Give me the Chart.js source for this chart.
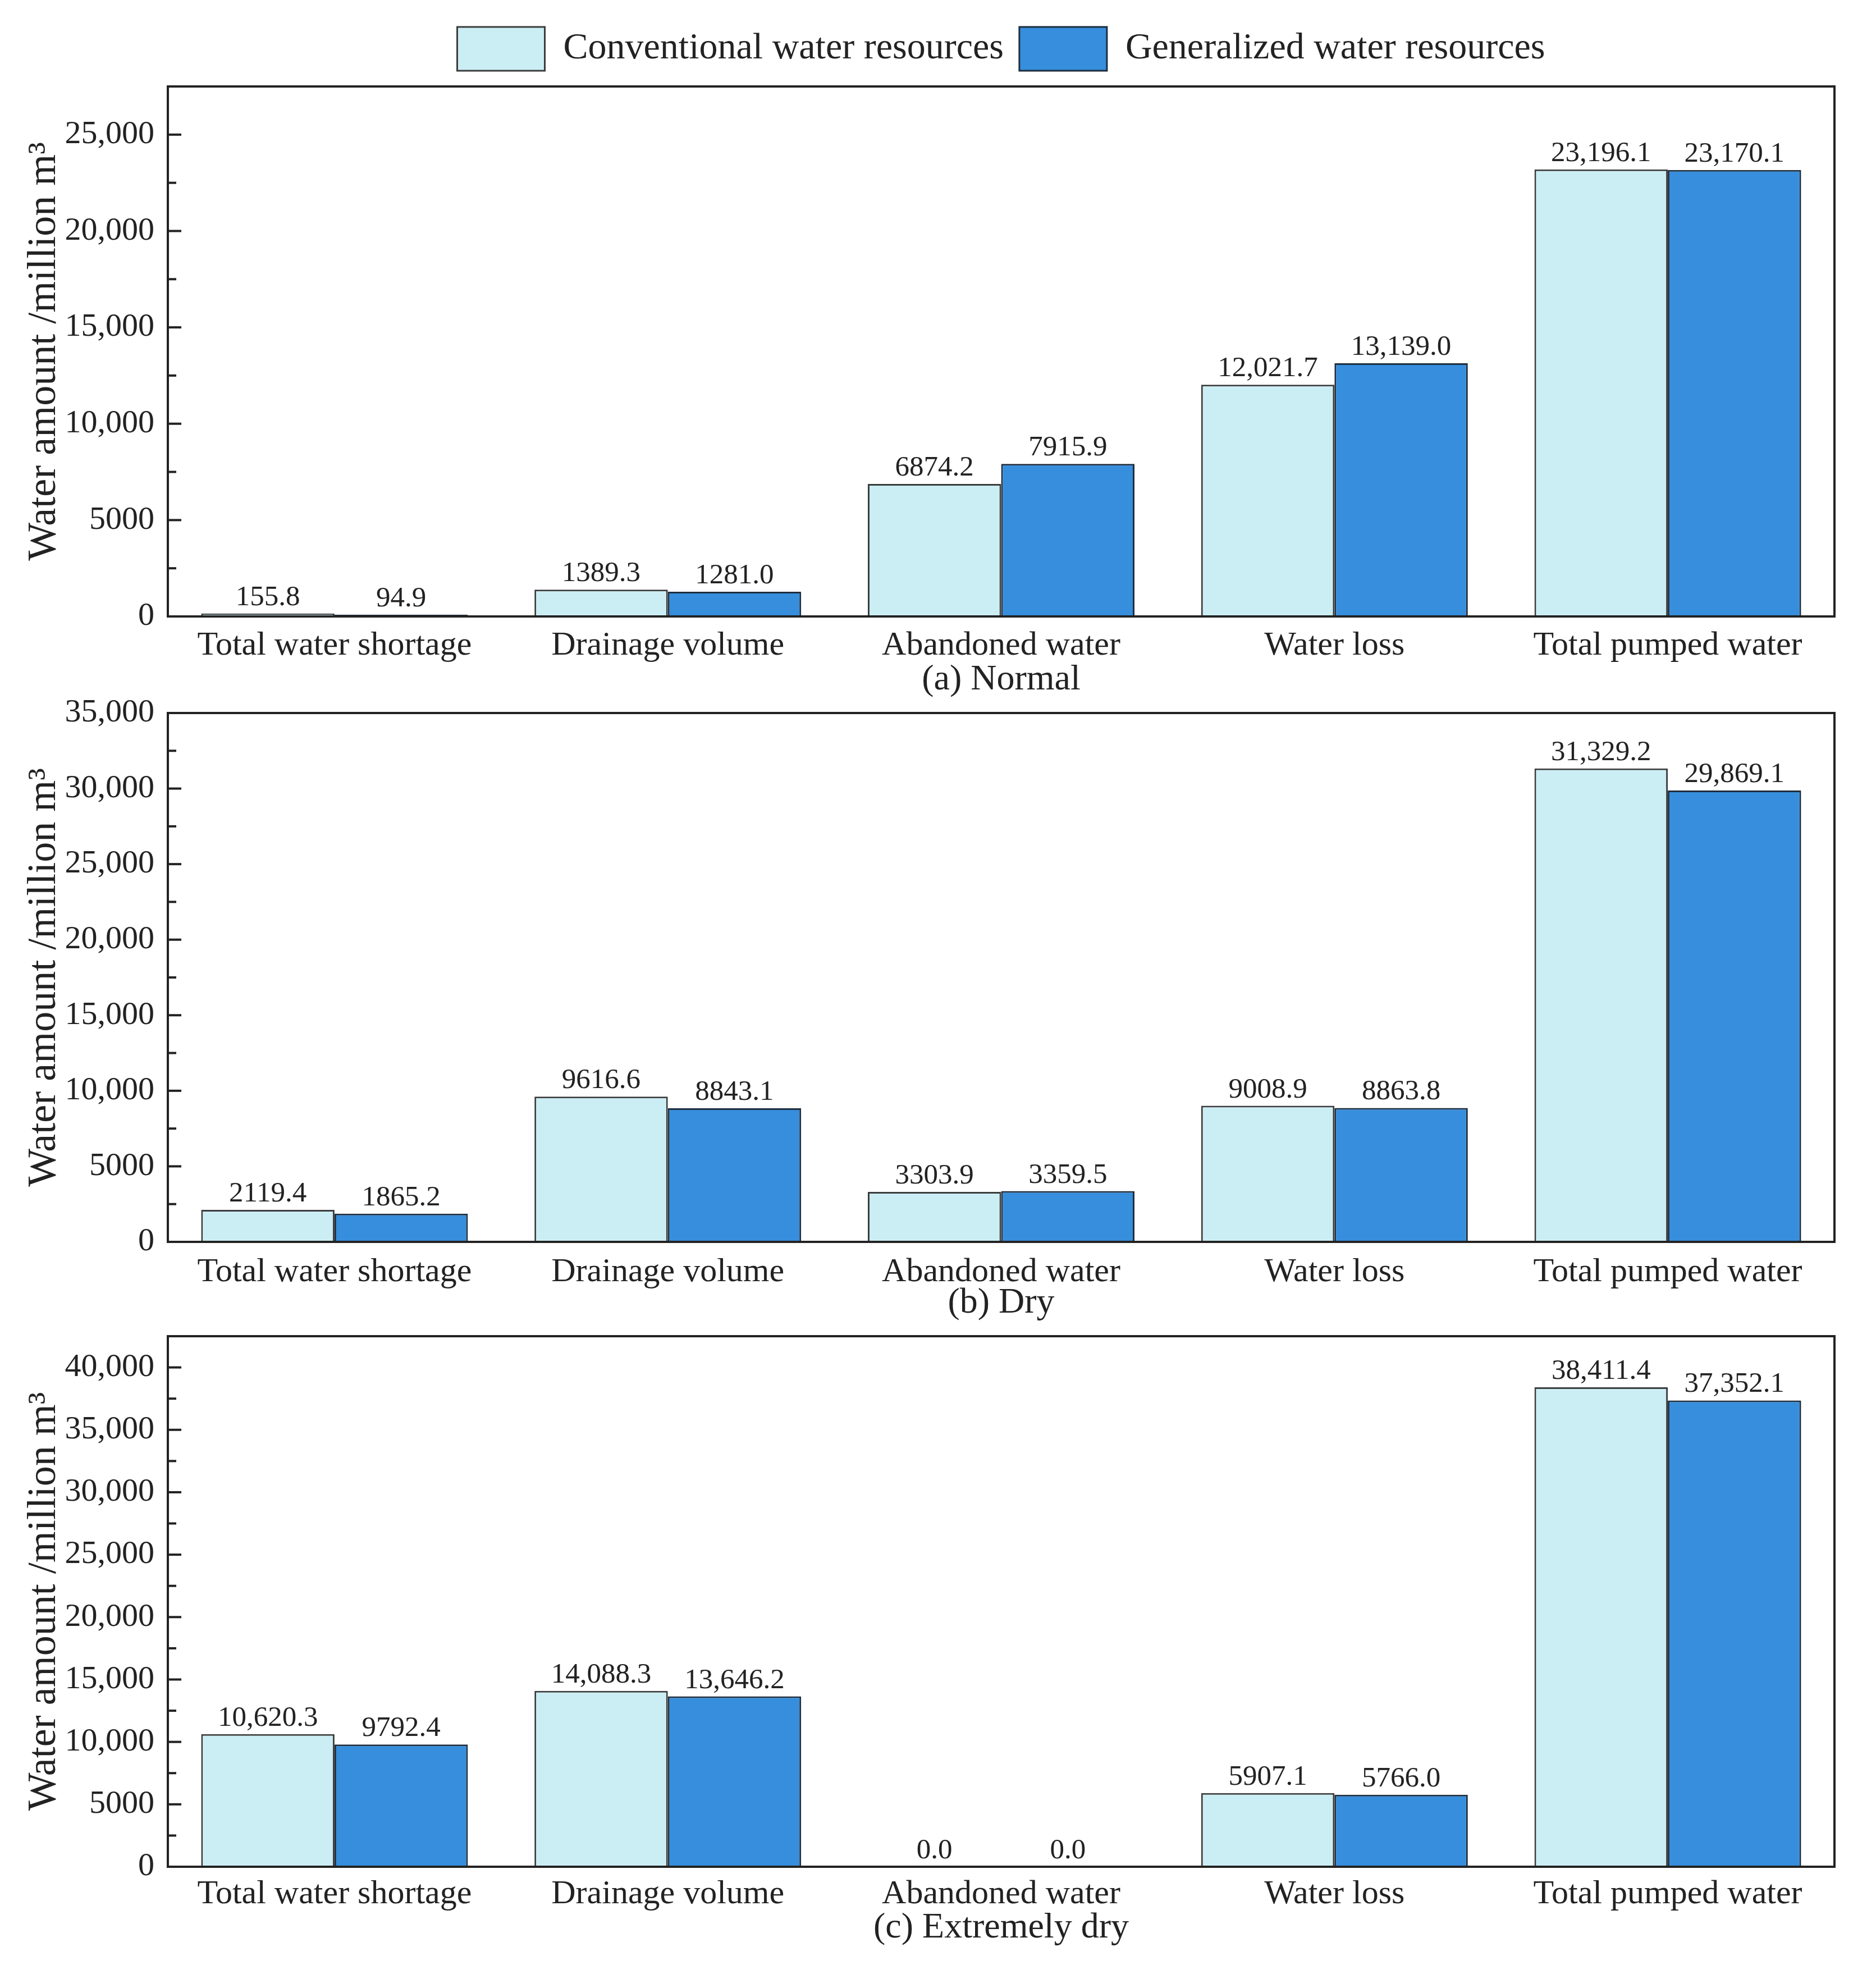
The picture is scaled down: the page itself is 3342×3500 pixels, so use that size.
<!DOCTYPE html>
<html>
<head>
<meta charset="utf-8">
<script src="https://cdn.jsdelivr.net/npm/chart.js@4"></script>
<style>
  html, body { margin: 0; padding: 0; background: #fff; overflow: hidden; }
  canvas { position: absolute; left: 0; }
</style>
</head>
<body>
<canvas id="chartA" width="3342" height="1250" style="top:0px"></canvas>
<canvas id="chartB" width="3342" height="1170" style="top:1190px"></canvas>
<canvas id="chartC" width="3342" height="1200" style="top:2300px"></canvas>
<script>
const categories = ["Total water shortage", "Drainage volume", "Abandoned water", "Water loss", "Total pumped water"];
const seriesNames = ["Conventional water resources", "Generalized water resources"];

const normalConventional = [155.8, 1389.3, 6874.2, 12021.7, 23196.1];
const normalGeneralized = [94.9, 1281.0, 7915.9, 13139.0, 23170.1];
const dryConventional = [2119.4, 9616.6, 3303.9, 9008.9, 31329.2];
const dryGeneralized = [1865.2, 8843.1, 3359.5, 8863.8, 29869.1];
const extremeConventional = [10620.3, 14088.3, 0.0, 5907.1, 38411.4];
const extremeGeneralized = [9792.4, 13646.2, 0.0, 5766.0, 37352.1];

const yMaxes = [27500, 35000, 42500];
const captions = ["(a) Normal", "(b) Dry", "(c) Extremely dry"];

const FONT = "'Liberation Serif', 'Times New Roman', serif";
const lightColor = "#cbeef4";
const darkColor = "#368edd";
const ink = "#222";

Chart.defaults.font.family = FONT;
Chart.defaults.color = ink;

// 5000 stays plain, 10,000 and up get a comma
function fmt(v, digits) {
    if (v >= 10000) {
        return v.toLocaleString("en-US", { minimumFractionDigits: digits, maximumFractionDigits: digits });
    }
    return v.toFixed(digits);
}

const framePlugin = {
    id: "frame",
    beforeLayout(chart) {
        // leave a little gap between legend and plot box
        const lg = chart.legend;
        if (!lg || lg._padded) return;
        const fit = lg.fit;
        lg.fit = function () {
            fit.call(this);
            if (this.options.display) this.height += 18;
        };
        lg._padded = true;
    },
    afterLayout(chart) {
        // center the legend over the plot box, not the whole canvas
        const lg = chart.legend;
        if (!lg || !lg.options.display) return;
        const a = chart.chartArea;
        const dx = (a.left + a.right) / 2 - (lg.left + lg.right) / 2;
        lg.left += dx;
        lg.right += dx;
    },
    afterDatasetsDraw(chart) {
        const ctx = chart.ctx;
        ctx.save();
        ctx.font = "51px " + FONT;
        ctx.fillStyle = ink;
        ctx.textAlign = "center";
        ctx.textBaseline = "alphabetic";
        chart.data.datasets.forEach((ds, i) => {
            chart.getDatasetMeta(i).data.forEach((bar, j) => {
                ctx.fillText(fmt(ds.data[j], 1), bar.x, bar.y - 15);
            });
        });
        ctx.restore();
    },
    afterDraw(chart) {
        const ctx = chart.ctx;
        const a = chart.chartArea;
        const y = chart.scales.y;
        ctx.save();
        ctx.strokeStyle = ink;
        ctx.lineWidth = 4;
        y.ticks.forEach(t => {
            if (t.value <= y.min || t.value >= y.max) return;
            const py = y.getPixelForValue(t.value);
            const len = t.value % 5000 === 0 ? 24 : 15;
            ctx.beginPath();
            ctx.moveTo(a.left, py);
            ctx.lineTo(a.left + len, py);
            ctx.stroke();
        });
        ctx.strokeRect(a.left, a.top, a.right - a.left, a.bottom - a.top);
        ctx.restore();
    }
};

function buildChart(id, conv, gen, yMax, caption, lay) {
    return new Chart(document.getElementById(id), {
        type: "bar",
        data: {
            labels: categories,
            datasets: [
                { label: seriesNames[0], data: conv, backgroundColor: lightColor, borderColor: "#3c3c3c", borderWidth: 3 },
                { label: seriesNames[1], data: gen, backgroundColor: darkColor, borderColor: "#1e2d3d", borderWidth: 3 }
            ]
        },
        options: {
            responsive: false,
            animation: false,
            devicePixelRatio: 1,
            datasets: { bar: { categoryPercentage: 0.8, barPercentage: 1.0 } },
            layout: { padding: { top: lay.top, left: 0, right: 74, bottom: 0 } },
            plugins: {
                legend: {
                    display: lay.legend,
                    position: "top",
                    labels: {
                        boxWidth: 156,
                        boxHeight: 78,
                        padding: 28,
                        color: ink,
                        font: { size: 66, family: FONT }
                    }
                },
                tooltip: { enabled: false }
            },
            scales: {
                x: {
                    grid: { display: false, drawTicks: false },
                    border: { display: false },
                    ticks: { padding: lay.tickPad, maxRotation: 0, autoSkip: false, color: ink, font: { size: 60 } },
                    title: { display: true, text: caption, color: ink, font: { size: 64 }, padding: { top: 0, bottom: lay.capPad } },
                    afterFit(scale) {
                        scale.height = lay.xHeight;
                        scale.paddingLeft = 0;
                        scale.paddingRight = 0;
                    }
                },
                y: {
                    min: 0,
                    max: yMax,
                    grid: { display: false, drawTicks: false },
                    border: { display: false },
                    ticks: {
                        stepSize: 2500,
                        autoSkip: false,
                        padding: 24,
                        color: ink,
                        font: { size: 58 },
                        callback: (v) => (v % 5000 === 0 ? fmt(v, 0) : "")
                    },
                    title: { display: true, text: "Water amount /million m³", color: ink, font: { size: 72 }, padding: { top: 36, bottom: 0 } },
                    afterFit(scale) {
                        scale.width = 299;
                        scale.paddingTop = 0;
                        scale.paddingBottom = 0;
                    }
                }
            }
        },
        plugins: [framePlugin]
    });
}

buildChart("chartA", normalConventional, normalGeneralized, yMaxes[0], captions[0],
    { top: 20, legend: true, xHeight: 152, tickPad: 16, capPad: 0 });
buildChart("chartB", dryConventional, dryGeneralized, yMaxes[1], captions[1],
    { top: 80, legend: false, xHeight: 148, tickPad: 18, capPad: 0 });
buildChart("chartC", extremeConventional, extremeGeneralized, yMaxes[2], captions[2],
    { top: 80, legend: false, xHeight: 175, tickPad: 13, capPad: 27 });
</script>
</body>
</html>
